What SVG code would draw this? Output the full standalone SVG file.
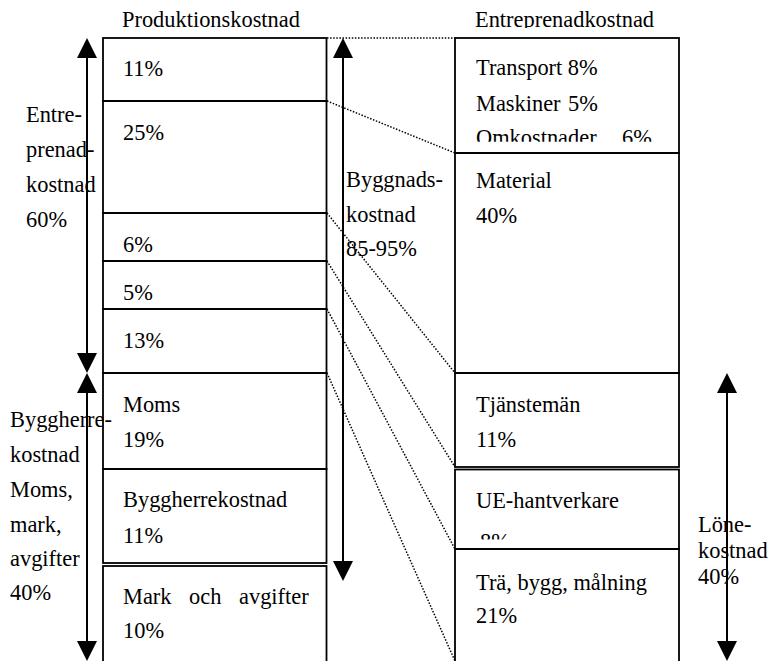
<svg xmlns="http://www.w3.org/2000/svg" width="772" height="661" viewBox="0 0 772 661">
<style>
.box{fill:none;stroke:#000;stroke-width:1.8}
.t{font-family:"Liberation Serif","Times New Roman",serif;font-size:22.4px;fill:#000}
.dot{fill:none;stroke:#000;stroke-width:1.5;stroke-dasharray:1.5 1.6}
.arr{fill:none;stroke:#000;stroke-width:2}
</style>
<defs>
<marker id="ah" viewBox="0 0 20 20" refX="0" refY="10" markerWidth="20" markerHeight="20" markerUnits="userSpaceOnUse" orient="auto-start-reverse"><path d="M0,0 L20,10 L0,20 z" fill="#000"/></marker>
<clipPath id="c1"><rect x="0" y="0" width="772" height="28"/></clipPath>
<clipPath id="c2"><rect x="455" y="120" width="224" height="21.8"/></clipPath>
<clipPath id="c3"><rect x="455" y="520" width="224" height="19.5"/></clipPath>
</defs>
<rect width="772" height="661" fill="#fff"/>

<g id="titles">
<text class="t" x="122" y="27">Produktionskostnad</text>
<text class="t" x="475" y="27" clip-path="url(#c1)">Entreprenadkostnad</text>
</g>

<g id="connectors">
<line class="dot" x1="327" y1="38" x2="455" y2="38"/>
<line class="dot" x1="327" y1="101" x2="455" y2="153"/>
<line class="dot" x1="327" y1="213" x2="455" y2="373"/>
<line class="dot" x1="327" y1="261" x2="455" y2="467"/>
<line class="dot" x1="327" y1="309" x2="455" y2="549"/>
<line class="dot" x1="327" y1="373" x2="455" y2="661"/>
</g>

<g id="arrows">
<line class="arr" x1="87" y1="58" x2="87" y2="353" marker-start="url(#ah)" marker-end="url(#ah)"/>
<line class="arr" x1="87" y1="393" x2="87" y2="641" marker-start="url(#ah)" marker-end="url(#ah)"/>
<line class="arr" x1="343" y1="58" x2="343" y2="561" marker-start="url(#ah)" marker-end="url(#ah)"/>
<line class="arr" x1="727" y1="393" x2="727" y2="641" marker-start="url(#ah)" marker-end="url(#ah)"/>
</g>

<g id="p1"><rect class="box" x="103" y="38" width="223.5" height="63"/><text class="t" x="123" y="76">11%</text></g>
<g id="p2"><rect class="box" x="103" y="101" width="223.5" height="112"/><text class="t" x="123" y="140">25%</text></g>
<g id="p3"><rect class="box" x="103" y="213" width="223.5" height="48"/><text class="t" x="123" y="252">6%</text></g>
<g id="p4"><rect class="box" x="103" y="261" width="223.5" height="48"/><text class="t" x="123" y="300">5%</text></g>
<g id="p5"><rect class="box" x="103" y="309" width="223.5" height="64"/><text class="t" x="123" y="348">13%</text></g>
<g id="p6"><rect class="box" x="103" y="373" width="223.5" height="96"/><text class="t" x="123" y="412">Moms</text><text class="t" x="123" y="447">19%</text></g>
<g id="p7"><rect class="box" x="103" y="469" width="223.5" height="94"/><text class="t" x="123" y="507">Byggherrekostnad</text><text class="t" x="123" y="543">11%</text></g>
<g id="p8"><rect class="box" x="103" y="566" width="223.5" height="96"/><text class="t" y="604"><tspan x="123">Mark</tspan><tspan x="189">och</tspan><tspan x="239">avgifter</tspan></text><text class="t" x="123" y="638">10%</text></g>

<g id="e1"><rect class="box" x="455" y="38" width="224" height="115"/>
<text class="t" x="476" y="75">Transport 8%</text>
<text class="t" y="111"><tspan x="476">Maskiner</tspan><tspan x="568">5%</tspan></text>
<text class="t" y="144.5" clip-path="url(#c2)"><tspan x="476">Omkostnader</tspan><tspan x="622">6%</tspan></text>
</g>
<g id="e2"><rect class="box" x="455" y="153" width="224" height="220"/><text class="t" x="476" y="188">Material</text><text class="t" x="476" y="223">40%</text></g>
<g id="e3"><rect class="box" x="455" y="373" width="224" height="94"/><text class="t" x="476" y="412">Tjänstemän</text><text class="t" x="476" y="447">11%</text></g>
<g id="e4"><rect class="box" x="455" y="469.5" width="224" height="79.5"/><text class="t" x="476" y="508">UE-hantverkare</text><text class="t" x="480" y="549" clip-path="url(#c3)">8%</text></g>
<g id="e5"><rect class="box" x="455" y="549" width="224" height="113"/><text class="t" x="476" y="590">Trä, bygg, målning</text><text class="t" x="476" y="623">21%</text></g>

<g id="lbl-entre">
<text class="t" x="26" y="122">Entre-</text>
<text class="t" x="26" y="157">prenad-</text>
<text class="t" x="26" y="192">kostnad</text>
<text class="t" x="26" y="227">60%</text>
</g>
<g id="lbl-byggherre">
<text class="t" x="10" y="427">Byggherre-</text>
<text class="t" x="10" y="462">kostnad</text>
<text class="t" x="10" y="497">Moms,</text>
<text class="t" x="10" y="532">mark,</text>
<text class="t" x="10" y="566">avgifter</text>
<text class="t" x="10" y="600">40%</text>
</g>
<g id="lbl-byggnad">
<text class="t" x="346" y="187">Byggnads-</text>
<text class="t" x="346" y="222">kostnad</text>
<text class="t" x="346" y="256">85-95%</text>
</g>
<g id="lbl-lone">
<text class="t" x="698" y="532">Löne-</text>
<text class="t" x="698" y="558">kostnad</text>
<text class="t" x="698" y="584">40%</text>
</g>
</svg>
